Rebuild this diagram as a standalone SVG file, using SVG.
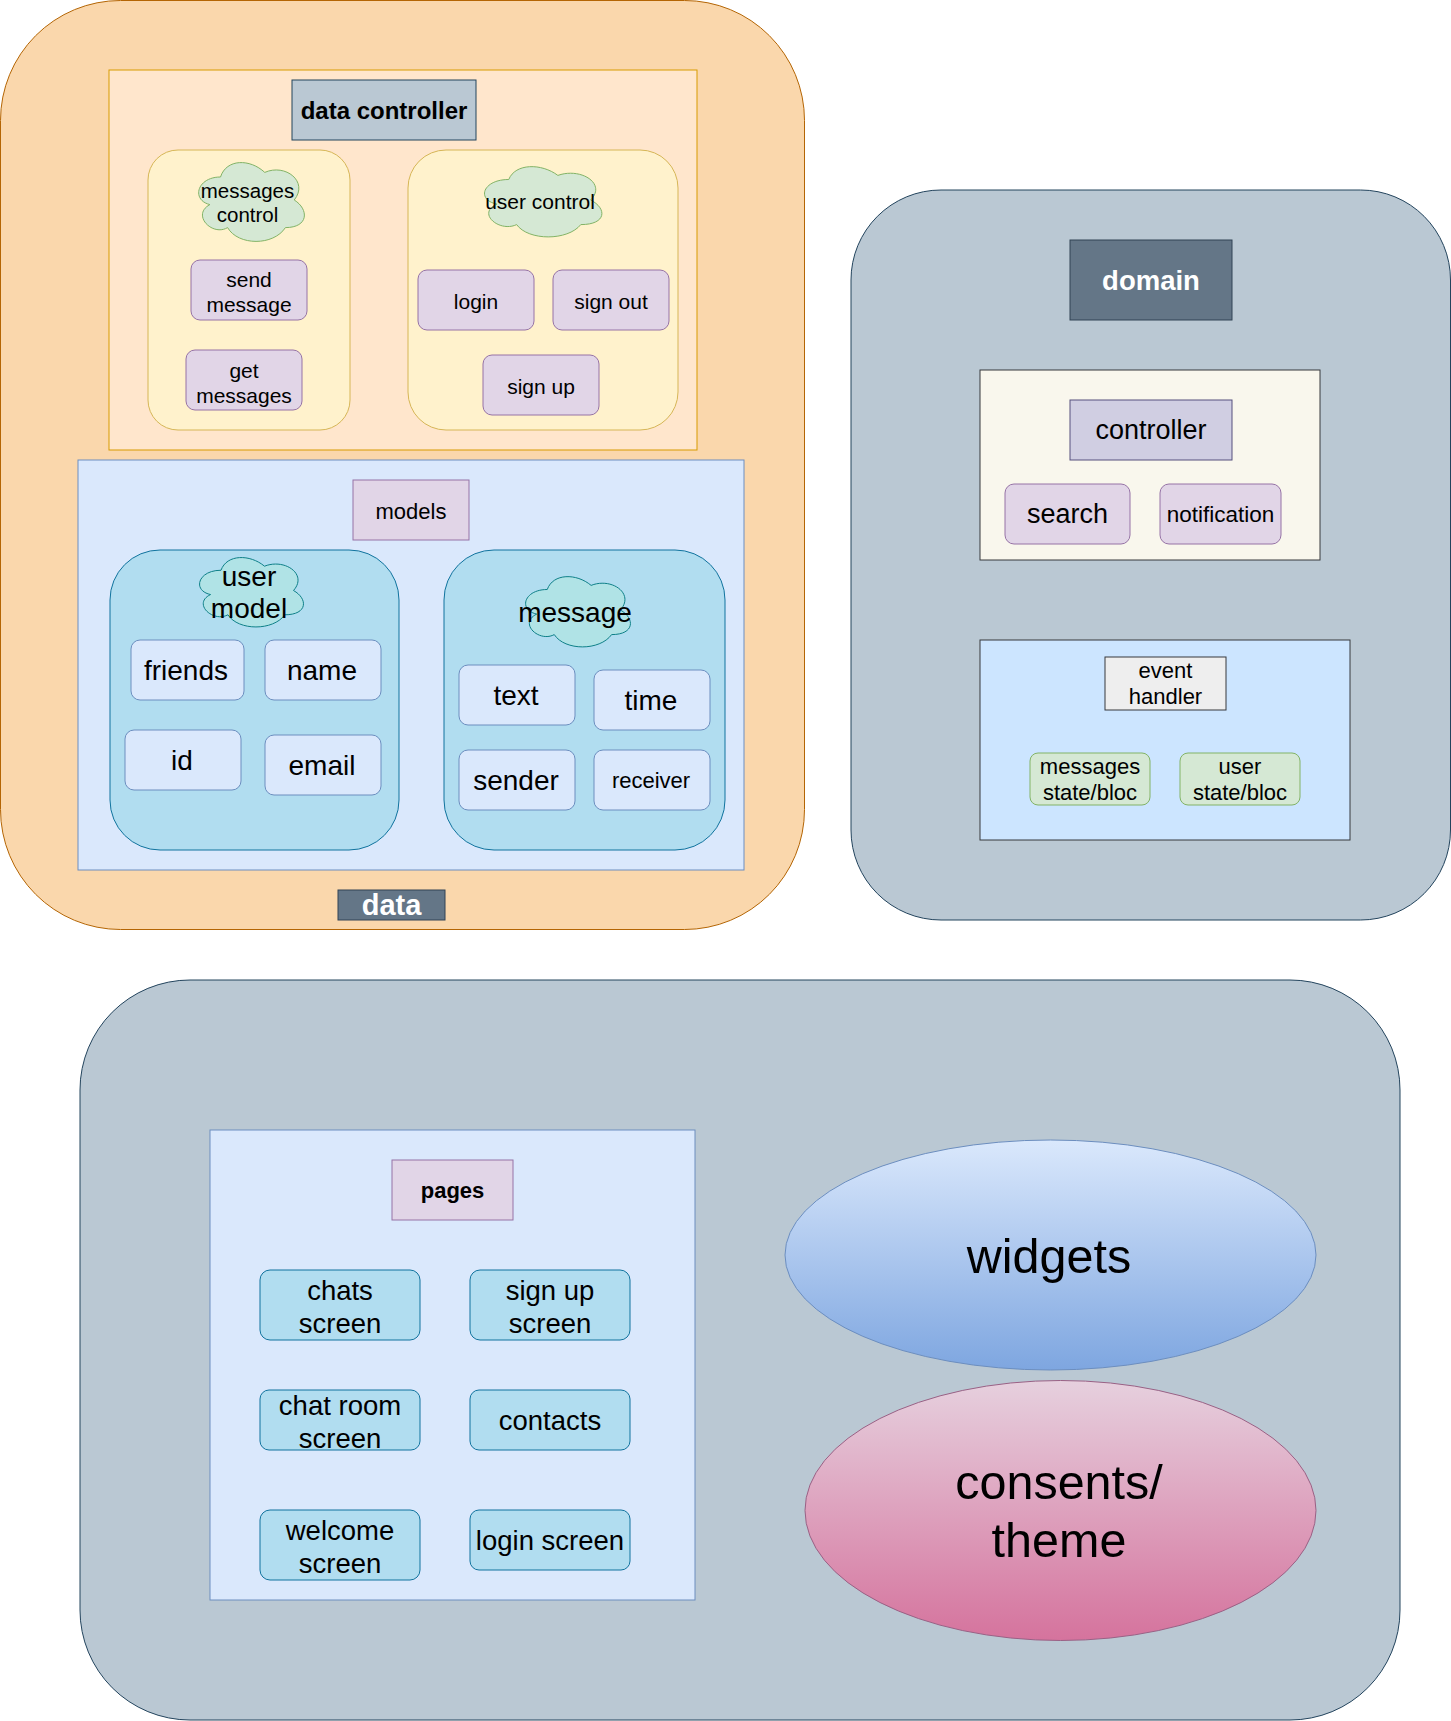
<svg xmlns="http://www.w3.org/2000/svg" xmlns:xlink="http://www.w3.org/1999/xlink" width="1451" height="1721" viewBox="0 0 1451 1721">
<style>
text{font-family:"Liberation Sans",Arial,Helvetica,sans-serif;text-anchor:middle;dominant-baseline:central;fill:#000}
.b{font-weight:bold}
.w{fill:#fff}
.slate{fill:#bac8d3;stroke:#23445d}
.dark{fill:#647687;stroke:#314354}
.orange{fill:#fad7ac;stroke:#b46504}
.lorange{fill:#ffe6cc;stroke:#d79b00}
.yellow{fill:#fff2cc;stroke:#d6b656}
.green{fill:#d5e8d4;stroke:#82b366}
.purple{fill:#e1d5e7;stroke:#9673a6}
.lblue{fill:#dae8fc;stroke:#6c8ebf}
.blue{fill:#b1ddf0;stroke:#10739e}
.teal{fill:#b0e3e6;stroke:#0e8088}
.cream{fill:#f9f7ed;stroke:#36393d}
.sky{fill:#cce5ff;stroke:#36393d}
.grey{fill:#eeeeee;stroke:#36393d}
.ctrl{fill:#d0cee2;stroke:#56517e}
rect,path,ellipse{stroke-width:1}
</style>
<defs>
<path id="cloud" vector-effect="non-scaling-stroke" d="M0.25 0.25C0.05 0.25 0 0.5 0.16 0.55C0 0.66 0.18 0.9 0.31 0.8C0.4 1 0.7 1 0.8 0.8C1 0.8 1 0.6 0.875 0.5C1 0.3 0.8 0.1 0.625 0.2C0.5 0.05 0.3 0.05 0.25 0.25Z"/>
<linearGradient id="gBlue" x1="0" y1="0" x2="0" y2="1"><stop offset="0" stop-color="#dae8fc"/><stop offset="1" stop-color="#7ea6e0"/></linearGradient>
<linearGradient id="gPink" x1="0" y1="0" x2="0" y2="1"><stop offset="0" stop-color="#e6d0de"/><stop offset="1" stop-color="#d5739d"/></linearGradient>
</defs>

<g id="data">
<rect class="orange" x="0.5" y="0.5" width="804" height="929" rx="120" ry="120"/>
</g>
<g id="data-controller-area">
<rect class="lorange" x="109" y="70" width="588" height="380"/>
</g>
<g id="data-controller">
<rect class="slate" x="292" y="80" width="184" height="60"/>
<text class="b" x="384" y="110" font-size="24">data controller</text>
</g>
<g id="messages-area">
<rect class="yellow" x="148" y="150" width="202" height="280" rx="30" ry="30"/>
</g>
<g id="messages-control">
<use href="#cloud" class="green" transform="translate(191,154) scale(118,92)"/>
<text x="247.5" y="190" font-size="20.5">messages</text>
<text x="247.5" y="214" font-size="20.5">control</text>
</g>
<g id="send-message">
<rect class="purple" x="191" y="260" width="116" height="60" rx="9" ry="9"/>
<text x="249" y="279" font-size="21">send</text>
<text x="249" y="304" font-size="21">message</text>
</g>
<g id="get-messages">
<rect class="purple" x="186" y="350" width="116" height="60" rx="9" ry="9"/>
<text x="244" y="370" font-size="21">get</text>
<text x="244" y="395" font-size="21">messages</text>
</g>
<g id="user-control-area">
<rect class="yellow" x="408" y="150" width="270" height="280" rx="38" ry="38"/>
</g>
<g id="user-control">
<use href="#cloud" class="green" transform="translate(476,159) scale(131,82)"/>
<text x="540" y="201" font-size="21">user control</text>
</g>
<g id="login">
<rect class="purple" x="418" y="270" width="116" height="60" rx="9" ry="9"/>
<text x="476" y="301" font-size="21">login</text>
</g>
<g id="sign-out">
<rect class="purple" x="553" y="270" width="116" height="60" rx="9" ry="9"/>
<text x="611" y="301" font-size="21">sign out</text>
</g>
<g id="sign-up">
<rect class="purple" x="483" y="355" width="116" height="60" rx="9" ry="9"/>
<text x="541" y="386" font-size="21">sign up</text>
</g>

<g id="models-area">
<rect class="lblue" x="78" y="460" width="666" height="410"/>
</g>
<g id="models">
<rect class="purple" x="353" y="480" width="116" height="60"/>
<text x="411" y="511" font-size="22">models</text>
</g>
<g id="user-model-area">
<rect class="blue" x="110" y="550" width="289" height="300" rx="50" ry="50"/>
</g>
<g id="user-model">
<use href="#cloud" class="teal" transform="translate(192,550) scale(116,81)"/>
<text x="249" y="576" font-size="28">user</text>
<text x="249" y="608" font-size="28">model</text>
</g>
<g id="friends">
<rect class="lblue" x="131" y="640" width="113" height="60" rx="9" ry="9"/>
<text x="186" y="670" font-size="28">friends</text>
</g>
<g id="name">
<rect class="lblue" x="265" y="640" width="116" height="60" rx="9" ry="9"/>
<text x="322" y="670" font-size="28">name</text>
</g>
<g id="id">
<rect class="lblue" x="125" y="730" width="116" height="60" rx="9" ry="9"/>
<text x="182" y="760" font-size="28">id</text>
</g>
<g id="email">
<rect class="lblue" x="265" y="735" width="116" height="60" rx="9" ry="9"/>
<text x="322" y="765" font-size="28">email</text>
</g>
<g id="message-area">
<rect class="blue" x="444" y="550" width="281" height="300" rx="50" ry="50"/>
</g>
<g id="message">
<use href="#cloud" class="teal" transform="translate(518,569) scale(117,82)"/>
<text x="575" y="612" font-size="28">message</text>
</g>
<g id="text">
<rect class="lblue" x="459" y="665" width="116" height="60" rx="9" ry="9"/>
<text x="516" y="695" font-size="28">text</text>
</g>
<g id="time">
<rect class="lblue" x="594" y="670" width="116" height="60" rx="9" ry="9"/>
<text x="651" y="700" font-size="28">time</text>
</g>
<g id="sender">
<rect class="lblue" x="459" y="750" width="116" height="60" rx="9" ry="9"/>
<text x="516" y="780" font-size="28">sender</text>
</g>
<g id="receiver">
<rect class="lblue" x="594" y="750" width="116" height="60" rx="9" ry="9"/>
<text x="651" y="780" font-size="22">receiver</text>
</g>
<g id="data-label">
<rect class="dark" x="338" y="890" width="107" height="30"/>
<text class="b w" x="391.5" y="905" font-size="29">data</text>
</g>

<g id="domain">
<rect class="slate" x="851" y="190" width="599.5" height="730" rx="90" ry="90"/>
</g>
<g id="domain-label">
<rect class="dark" x="1070" y="240" width="162" height="80"/>
<text class="b w" x="1151" y="280" font-size="27.5">domain</text>
</g>
<g id="controller-area">
<rect class="cream" x="980" y="370" width="340" height="190"/>
</g>
<g id="controller">
<rect class="ctrl" x="1070" y="400" width="162" height="60"/>
<text x="1151" y="430" font-size="27">controller</text>
</g>
<g id="search">
<rect class="purple" x="1005" y="484" width="125" height="60" rx="9" ry="9"/>
<text x="1067.5" y="514" font-size="27">search</text>
</g>
<g id="notification">
<rect class="purple" x="1160" y="484" width="121" height="60" rx="9" ry="9"/>
<text x="1220.5" y="514" font-size="22.5">notification</text>
</g>
<g id="event-area">
<rect class="sky" x="980" y="640" width="370" height="200"/>
</g>
<g id="event-handler">
<rect class="grey" x="1105" y="657" width="121" height="53"/>
<text x="1165.5" y="670" font-size="22">event</text>
<text x="1165.5" y="696.5" font-size="22">handler</text>
</g>
<g id="messages-state">
<rect class="green" x="1030" y="753" width="120" height="52" rx="8" ry="8"/>
<text x="1090" y="766" font-size="22">messages</text>
<text x="1090" y="792" font-size="22">state/bloc</text>
</g>
<g id="user-state">
<rect class="green" x="1180" y="753" width="120" height="52" rx="8" ry="8"/>
<text x="1240" y="766" font-size="22">user</text>
<text x="1240" y="792" font-size="22">state/bloc</text>
</g>

<g id="presentation">
<rect class="slate" x="80" y="980" width="1320" height="740" rx="110" ry="110"/>
</g>
<g id="pages-area">
<rect class="lblue" x="210" y="1130" width="485" height="470"/>
</g>
<g id="pages">
<rect class="purple" x="392" y="1160" width="121" height="60"/>
<text class="b" x="452.5" y="1190" font-size="22">pages</text>
</g>
<g id="chats-screen">
<rect class="blue" x="260" y="1270" width="160" height="70" rx="10" ry="10"/>
<text x="340" y="1290" font-size="27.5">chats</text>
<text x="340" y="1323" font-size="27.5">screen</text>
</g>
<g id="sign-up-screen">
<rect class="blue" x="470" y="1270" width="160" height="70" rx="10" ry="10"/>
<text x="550" y="1290" font-size="27.5">sign up</text>
<text x="550" y="1323" font-size="27.5">screen</text>
</g>
<g id="chat-room-screen">
<rect class="blue" x="260" y="1390" width="160" height="60" rx="9" ry="9"/>
<text x="340" y="1405" font-size="27.5">chat room</text>
<text x="340" y="1438" font-size="27.5">screen</text>
</g>
<g id="contacts">
<rect class="blue" x="470" y="1390" width="160" height="60" rx="9" ry="9"/>
<text x="550" y="1420" font-size="27.5">contacts</text>
</g>
<g id="welcome-screen">
<rect class="blue" x="260" y="1510" width="160" height="70" rx="10" ry="10"/>
<text x="340" y="1530" font-size="27.5">welcome</text>
<text x="340" y="1563" font-size="27.5">screen</text>
</g>
<g id="login-screen">
<rect class="blue" x="470" y="1510" width="160" height="60" rx="9" ry="9"/>
<text x="550" y="1540" font-size="27.5">login screen</text>
</g>
<g id="widgets">
<ellipse cx="1050.5" cy="1255" rx="265.5" ry="115" fill="url(#gBlue)" stroke="#6c8ebf"/>
<text x="1049" y="1256" font-size="48.5">widgets</text>
</g>
<g id="consents-theme">
<ellipse cx="1060.5" cy="1510.5" rx="255.5" ry="130" fill="url(#gPink)" stroke="#996185"/>
<text x="1059" y="1481.5" font-size="48.5">consents/</text>
<text x="1059" y="1540" font-size="48.5">theme</text>
</g>
<g id="connectors"/>
</svg>
